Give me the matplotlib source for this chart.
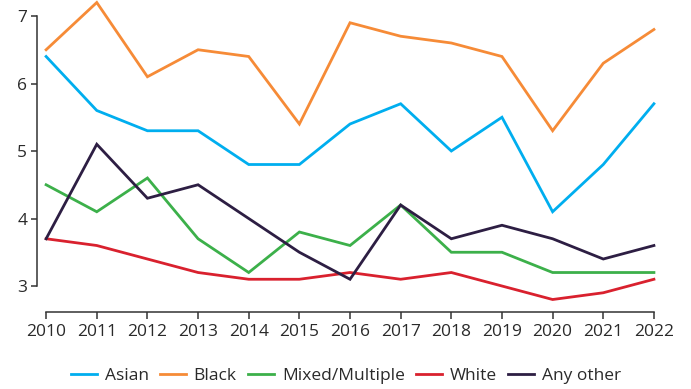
import matplotlib
matplotlib.use('Agg')
import matplotlib.pyplot as plt

# data
years = list(range(2010, 2023))
asian = [6.4, 5.6, 5.3, 5.3, 4.8, 4.8, 5.4, 5.7, 5.0, 5.5, 4.1, 4.8, 5.7]
black = [6.5, 7.2, 6.1, 6.5, 6.4, 5.4, 6.9, 6.7, 6.6, 6.4, 5.3, 6.3, 6.8]
mixed = [4.5, 4.1, 4.6, 3.7, 3.2, 3.8, 3.6, 4.2, 3.5, 3.5, 3.2, 3.2, 3.2]
white = [3.7, 3.6, 3.4, 3.2, 3.1, 3.1, 3.2, 3.1, 3.2, 3.0, 2.8, 2.9, 3.1]
other = [3.7, 5.1, 4.3, 4.5, 4.0, 3.5, 3.1, 4.2, 3.7, 3.9, 3.7, 3.4, 3.6]

series = [
    ('Asian', asian, '#00aeef'),
    ('Black', black, '#f68b37'),
    ('Mixed/Multiple', mixed, '#3cb04a'),
    ('White', white, '#d9212e'),
    ('Any other', other, '#2d1e43'),
]

plt.rcParams['font.family'] = ['Open Sans', 'DejaVu Sans']
axis_col = '#333333'

fig = plt.figure(figsize=(6.91, 3.89), dpi=100)
ax = fig.add_axes([37 / 691, 77 / 389, 623 / 691, 312 / 389])

for name, vals, col in series:
    ax.plot(years, vals, color=col, lw=2.0, label=name, clip_on=False,
            solid_joinstyle='miter')

ax.set_xlim(2009.82, 2022.12)
ax.set_ylim(2.615, 7.237)
ax.set_xticks(years)
ax.set_yticks([3, 4, 5, 6, 7])

for s in ['top', 'right']:
    ax.spines[s].set_visible(False)
ax.spines['left'].set_bounds(3, 7)
ax.spines['bottom'].set_bounds(2010, 2022)
for s in ['left', 'bottom']:
    ax.spines[s].set_color(axis_col)
    ax.spines[s].set_linewidth(1.1)

ax.tick_params(axis='both', colors=axis_col, labelcolor='#2a2a2a',
               labelsize=12.5, width=1.1)
ax.tick_params(axis='x', length=5, pad=3.5)
ax.tick_params(axis='y', length=4, pad=3)

fig.legend(loc='center', bbox_to_anchor=(346 / 691, 1 - 376 / 389),
           ncol=5, frameon=False, fontsize=12.5, handlelength=1.5,
           handletextpad=0.45, columnspacing=0.65, labelcolor='#2a2a2a')

fig.savefig('out.png', dpi=100)
